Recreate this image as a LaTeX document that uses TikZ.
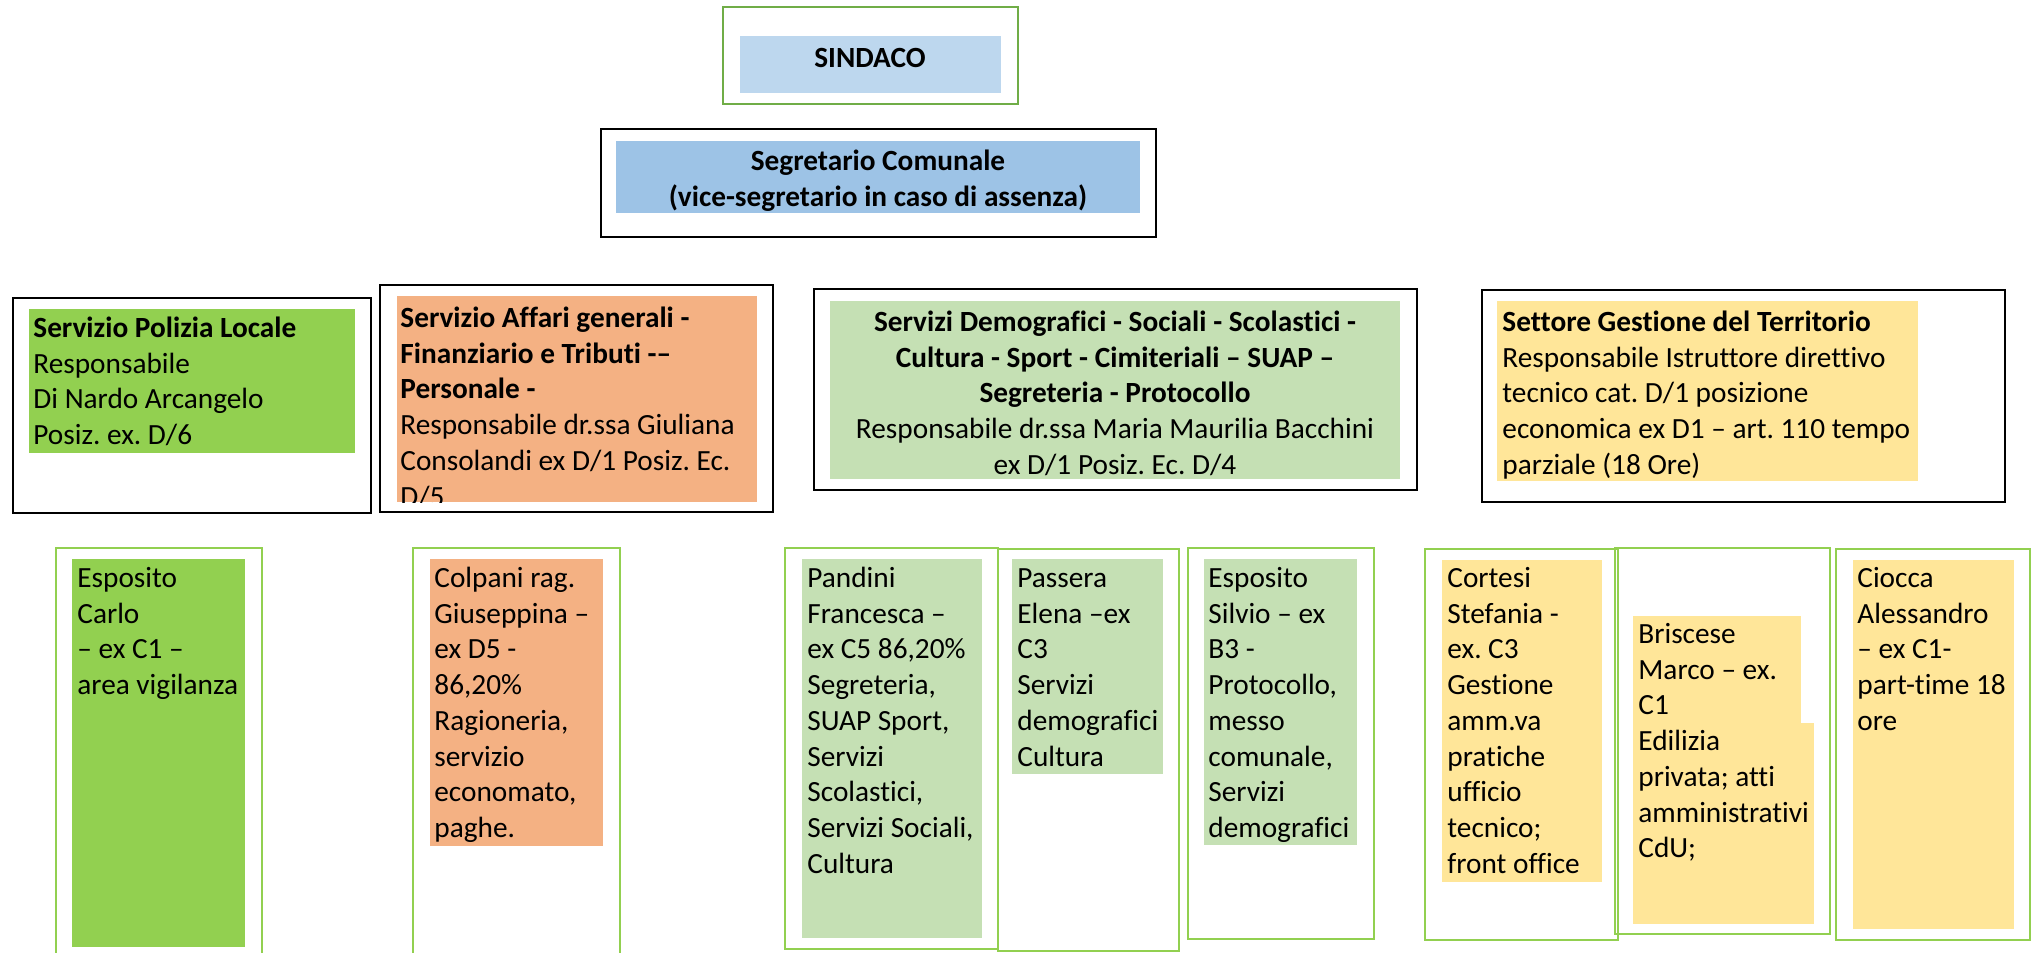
\documentclass[tikz,border=0pt]{standalone}
\usepackage{fontspec}
\setmainfont{Carlito}[Ligatures={TeX,NoCommon}]
\usetikzlibrary{fit}
\frenchspacing
\definecolor{sgreen}{HTML}{70AD47}
\definecolor{lgreen}{HTML}{92D050}
\definecolor{pblue}{HTML}{BDD7EE}
\definecolor{mblue}{HTML}{9DC3E6}
\definecolor{salmon}{HTML}{F4B183}
\definecolor{pgreen}{HTML}{C5E0B4}
\definecolor{pyellow}{HTML}{FFE699}
\tikzset{
  frameblack/.style={draw=black, line width=1.1pt, inner sep=0pt},
  framegreen/.style={draw=lgreen, line width=1pt, inner sep=0pt},
  framesind/.style={draw=sgreen, line width=1.4pt, inner sep=0pt},
  fillbox/.style={fill=#1, draw=none, inner sep=0pt},
  txt/.style={inner sep=0pt, align=left, anchor=north west, font=\fontsize{14.65pt}{17.87pt}\selectfont},
  txtc/.style={txt, align=center, anchor=north},
}
\begin{document}
\begin{tikzpicture}[x=0.5pt, y=-0.5pt]
\clip (0,0) rectangle (2035,953);
\fill[white] (0,0) rectangle (2035,953);

% SINDACO
\node[fit={(723,7)(1018,104)}, framesind] (sindF) {};
\node[fit={(740,36)(1001,93)}, fillbox=pblue] (sindB) {};
\node[txt, anchor=base] (sindT) at (870,67) {\textbf{SINDACO}};

% Segretario
\node[fit={(601,129)(1156,237)}, frameblack] (segF) {};
\node[fit={(616,141)(1140,213)}, fillbox=mblue] (segB) {};
\node[txtc] (segT) at (878,145) {\strut\textbf{Segretario Comunale}\\\textbf{(vice-segretario in caso di assenza)}};

% Polizia
\node[fit={(13,298)(371,513)}, frameblack] (polF) {};
\node[fit={(29,309)(355,453)}, fillbox=lgreen] (polB) {};
\node[txt] (polT) at (33,312) {\strut\textbf{Servizio Polizia Locale}\\Responsabile\\Di Nardo Arcangelo\\Posiz. ex. D/6};

% Affari generali
\node[fit={(380,285)(773,512)}, frameblack] (affF) {};
\node[fit={(397,296)(757,502)}, fillbox=salmon] (affB) {};
\begin{scope}
\clip (397,296) rectangle (757,502);
\node[txt] (affT) at (400,302) {\strut\textbf{Servizio Affari generali -}\\\textbf{Finanziario e Tributi -–}\\\textbf{Personale -}\\Responsabile dr.ssa Giuliana\\Consolandi ex D/1 Posiz. Ec.\\D/5};
\end{scope}

% Demografici
\node[fit={(814,289)(1417,490)}, frameblack] (demF) {};
\node[fit={(830,301)(1400,479)}, fillbox=pgreen] (demB) {};
\node[txtc] (demT) at (1115,306) {\strut\textbf{Servizi Demografici - Sociali - Scolastici -}\\\textbf{Cultura - Sport - Cimiteriali – SUAP –}\\\textbf{Segreteria - Protocollo}\\Responsabile dr.ssa Maria Maurilia Bacchini\\ex D/1 Posiz. Ec. D/4};

% Territorio
\node[fit={(1482,290)(2005,502)}, frameblack] (terF) {};
\node[fit={(1497,301)(1918,481)}, fillbox=pyellow] (terB) {};
\node[txt] (terT) at (1502,306) {\strut\textbf{Settore Gestione del Territorio}\\Responsabile Istruttore direttivo\\tecnico cat. D/1 posizione\\economica ex D1 – art. 110 tempo\\parziale (18 Ore)};

% Bottom row
\node[fit={(56,548)(262,962)}, framegreen] (carF) {};
\node[fit={(72,559)(245,947)}, fillbox=lgreen] (carB) {};
\node[txt] (carT) at (77,562) {\strut Esposito\\Carlo\\– ex C1 –\\area vigilanza};

\node[fit={(413,548)(620,962)}, framegreen] (colF) {};
\node[fit={(430,559)(603,846)}, fillbox=salmon] (colB) {};
\node[txt] (colT) at (434,562) {\strut Colpani rag.\\Giuseppina –\\ex D5 -\\86,20\%\\Ragioneria,\\servizio\\economato,\\paghe.};

\node[fit={(785,548)(998,949)}, framegreen] (panF) {};
\node[fit={(802,559)(982,938)}, fillbox=pgreen] (panB) {};
\node[txt] (panT) at (807,562) {\strut Pandini\\Francesca –\\ex C5 86,20\%\\Segreteria,\\SUAP Sport,\\Servizi\\Scolastici,\\Servizi Sociali,\\Cultura};

\node[fit={(998,549)(1179,951)}, framegreen] (pasF) {};
\node[fit={(1012,559)(1163,774)}, fillbox=pgreen] (pasB) {};
\node[txt] (pasT) at (1017,562) {\strut Passera\\Elena –ex\\C3\\Servizi\\demografici\\Cultura};

\node[fit={(1188,548)(1374,939)}, framegreen] (silF) {};
\node[fit={(1204,559)(1357,845)}, fillbox=pgreen] (silB) {};
\node[txt] (silT) at (1208,562) {\strut Esposito\\Silvio – ex\\B3 -\\Protocollo,\\messo\\comunale,\\Servizi\\demografici};

\node[fit={(1425,549)(1618,940)}, framegreen] (corF) {};
\node[fit={(1442,560)(1602,882)}, fillbox=pyellow] (corB) {};
\node[txt] (corT) at (1447,562) {\strut Cortesi\\Stefania -\\ex. C3\\Gestione\\amm.va\\pratiche\\ufficio\\tecnico;\\front office};

\node[fit={(1615,548)(1830,934)}, framegreen] (briF) {};
\node[fit={(1633,616)(1801,724)}, fillbox=pyellow] (briB1) {};
\node[fit={(1633,723)(1814,924)}, fillbox=pyellow] (briB2) {};
\node[txt] (briT) at (1638,618) {\strut Briscese\\Marco – ex.\\C1\\Edilizia\\privata; atti\\amministrativi\\CdU;};

\node[fit={(1836,549)(2030,940)}, framegreen] (cioF) {};
\node[fit={(1853,560)(2014,929)}, fillbox=pyellow] (cioB) {};
\node[txt] (cioT) at (1857,562) {\strut Ciocca\\Alessandro\\– ex C1-\\part-time 18\\ore};
\end{tikzpicture}
\end{document}
